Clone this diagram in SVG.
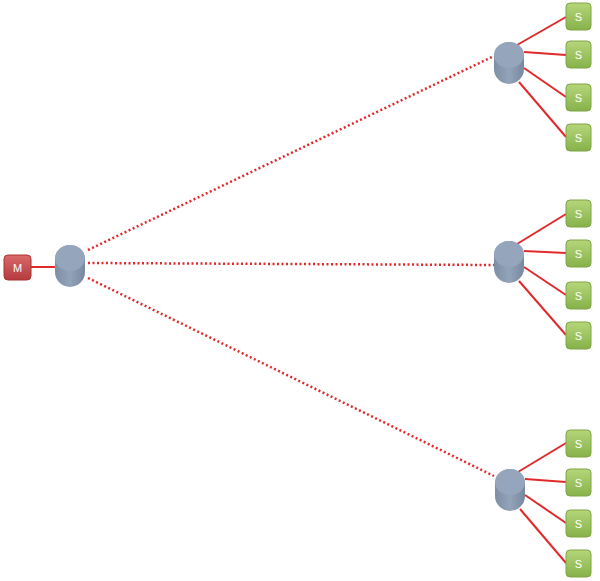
<svg xmlns="http://www.w3.org/2000/svg" width="600" height="581" viewBox="0 0 600 581">
<defs>
<linearGradient id="gs" x1="0" y1="0" x2="0" y2="1"><stop offset="0" stop-color="#b5d67a"/><stop offset="1" stop-color="#86b24a"/></linearGradient>
<linearGradient id="gm" x1="0" y1="0" x2="0" y2="1"><stop offset="0" stop-color="#d9696a"/><stop offset="1" stop-color="#b53b3d"/></linearGradient>
<linearGradient id="gh" x1="0" y1="0" x2="1" y2="0"><stop offset="0" stop-color="#7d8ea6"/><stop offset="0.5" stop-color="#93a3b9"/><stop offset="1" stop-color="#7788a0"/></linearGradient>
<g id="hub"><rect x="-15" y="-21" width="30" height="42" rx="15" ry="15" fill="url(#gh)"/><ellipse cx="0" cy="-8" rx="15" ry="13" fill="#95a5bb"/></g>
</defs>
<style>
.s rect{fill:url(#gs);stroke:#7ea444;stroke-width:1}
.s text,.m text{font-family:"Liberation Sans",Arial,sans-serif;font-size:11px;fill:#fff;text-anchor:middle}
.l{stroke:#e02a2a;stroke-width:2;fill:none}
.d{stroke:#e02a2a;stroke-width:2.5;fill:none;stroke-dasharray:2 2.5}
</style>
<g id="connectors">
<line class="l" x1="31" y1="267" x2="55" y2="267"/>
<line class="d" x1="88" y1="250" x2="492" y2="57"/>
<line class="d" x1="88" y1="263" x2="494" y2="265"/>
<line class="d" x1="88" y1="278" x2="494" y2="476"/>
<line class="l" x1="517" y1="45" x2="566" y2="17"/>
<line class="l" x1="524" y1="52" x2="566" y2="55"/>
<line class="l" x1="524" y1="68" x2="566" y2="97"/>
<line class="l" x1="519" y1="82" x2="566" y2="137"/>
<line class="l" x1="517" y1="244" x2="566" y2="214"/>
<line class="l" x1="524" y1="251" x2="566" y2="253"/>
<line class="l" x1="524" y1="267" x2="566" y2="295"/>
<line class="l" x1="519" y1="281" x2="566" y2="335"/>
<line class="l" x1="518" y1="472" x2="566" y2="443"/>
<line class="l" x1="525" y1="479" x2="566" y2="482"/>
<line class="l" x1="525" y1="495" x2="566" y2="523"/>
<line class="l" x1="520" y1="509" x2="566" y2="563"/>
</g>
<g id="m" class="m"><rect x="4" y="255" width="27" height="25" rx="4" fill="url(#gm)" stroke="#a33"/><text x="17.5" y="271.5">M</text></g>
<g id="hub0"><use href="#hub" x="70" y="266"/></g>
<g id="hub1"><use href="#hub" x="509" y="63"/></g>
<g id="hub2"><use href="#hub" x="509" y="262"/></g>
<g id="hub3"><use href="#hub" x="510" y="490"/></g>
<g id="s1" class="s"><rect x="566" y="3" width="25" height="27" rx="4"/><text x="578.5" y="20.5">S</text></g>
<g id="s2" class="s"><rect x="566" y="41" width="25" height="27" rx="4"/><text x="578.5" y="58.5">S</text></g>
<g id="s3" class="s"><rect x="566" y="84" width="25" height="27" rx="4"/><text x="578.5" y="101.5">S</text></g>
<g id="s4" class="s"><rect x="566" y="124" width="25" height="27" rx="4"/><text x="578.5" y="141.5">S</text></g>
<g id="s5" class="s"><rect x="566" y="200" width="25" height="27" rx="4"/><text x="578.5" y="217.5">S</text></g>
<g id="s6" class="s"><rect x="566" y="240" width="25" height="27" rx="4"/><text x="578.5" y="257.5">S</text></g>
<g id="s7" class="s"><rect x="566" y="282" width="25" height="27" rx="4"/><text x="578.5" y="299.5">S</text></g>
<g id="s8" class="s"><rect x="566" y="322" width="25" height="27" rx="4"/><text x="578.5" y="339.5">S</text></g>
<g id="s9" class="s"><rect x="566" y="430" width="25" height="27" rx="4"/><text x="578.5" y="447.5">S</text></g>
<g id="s10" class="s"><rect x="566" y="469" width="25" height="27" rx="4"/><text x="578.5" y="486.5">S</text></g>
<g id="s11" class="s"><rect x="566" y="510" width="25" height="27" rx="4"/><text x="578.5" y="527.5">S</text></g>
<g id="s12" class="s"><rect x="566" y="550" width="25" height="27" rx="4"/><text x="578.5" y="567.5">S</text></g>
</svg>
